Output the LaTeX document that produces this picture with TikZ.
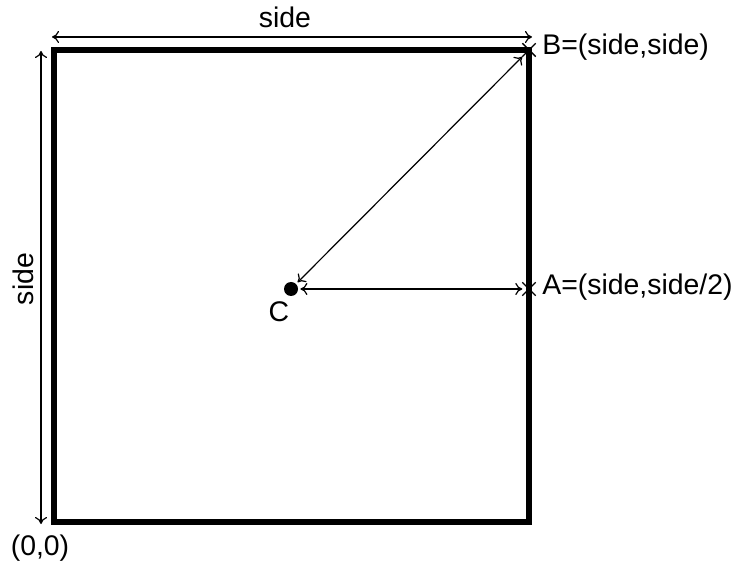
\documentclass[tikz,border=0pt]{standalone}
\usepackage{fontspec}
\setmainfont{Liberation Sans}
\usetikzlibrary{positioning,arrows.meta,shapes.misc}

\begin{document}
\begin{tikzpicture}[x=0.5pt, y=-0.5pt,
  lb/.style={font=\fontsize{14.2}{16}\selectfont, inner sep=0pt},
  ar/.style={{To[length=3.5pt,width=6pt]}-{To[length=3.5pt,width=6pt]}, line width=0.6pt},
  mk/.style={draw, cross out, line width=0.7pt, minimum size=6pt, inner sep=0pt}
]
\useasboundingbox (0,0) rectangle (733,566);
% square and its points
\coordinate (O) at (54,522);
\coordinate (P) at (54,50);
\coordinate (Q) at (529,522);
\node[mk] (B) at (529,50) {};
\node[mk] (A) at (529,289) {};
\node[circle, fill, inner sep=0pt, minimum size=7pt] (C) at (291,289) {};
\draw[line width=2.7pt, line join=miter] (O) -- (P) -- (B.center) -- (Q) -- cycle;
% dimensions
\coordinate (d1) at (52,37);
\coordinate (d2) at (532,37);
\coordinate (d3) at (41,51);
\coordinate (d4) at (41,524);
\draw[ar] (d1) -- (d2);
\draw[ar] (d3) -- (d4);
\draw[ar, shorten <=1pt] (C) -- (A);
\draw[ar, shorten <=1pt] (C) -- (B);
% labels
\node[lb, anchor=base] (ts) at (285,28) {side};
\node[lb, anchor=base, rotate=90] (ls) at (33,279) {side};
\node[lb, anchor=base] (ol) at (40,555) {(0,0)};
\node[lb, anchor=base] (cl) at (279,322) {C};
\node[lb, anchor=base west] (bl) at (542,55) {B=(side,side)};
\node[lb, anchor=base west] (al) at (542,295) {A=(side,side/2)};
\end{tikzpicture}
\end{document}
